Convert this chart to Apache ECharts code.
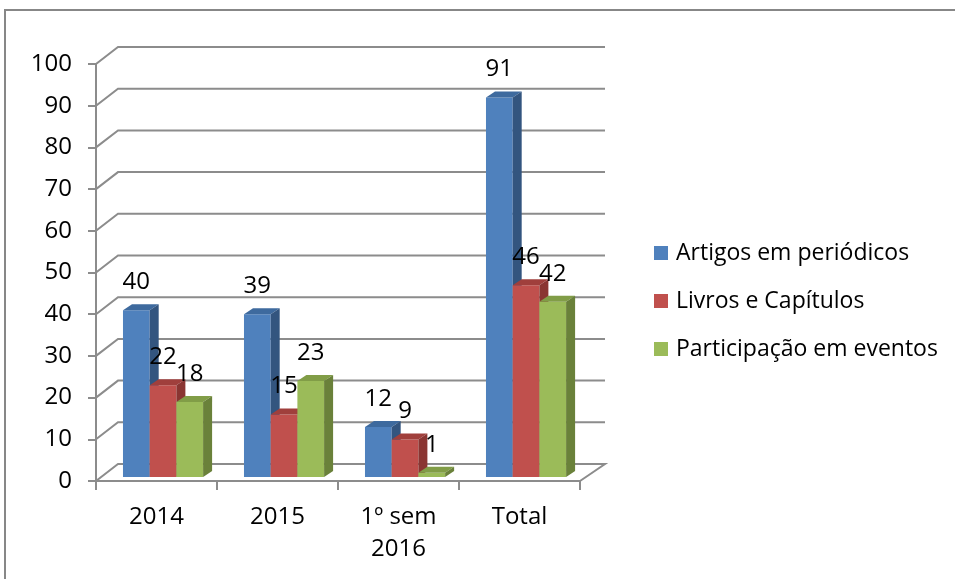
<!DOCTYPE html>
<html>
<head>
<meta charset="utf-8">
<script src="https://cdn.jsdelivr.net/npm/echarts@6/dist/echarts.min.js"></script>
<style>
html,body{margin:0;padding:0;background:#fff;}
#c{width:955px;height:579px;}
</style>
</head>
<body>
<div id="c"></div>
<script>
const categories = ['2014', '2015', '1º sem\n2016', 'Total'];
const seriesNames = ['Artigos em periódicos', 'Livros e Capítulos', 'Participação em eventos'];
const artigos = [40, 39, 12, 91];
const livros = [22, 15, 9, 46];
const participacao = [18, 23, 1, 42];
const yTicks = [0, 10, 20, 30, 40, 50, 60, 70, 80, 90, 100];

const FONT = 'Open Sans';
const GRID_COLOR = '#8c8c8c';
const palettes = [
  { front: '#4F81BD', top: '#3E6A9E', side: '#33557F' },
  { front: '#C0504D', top: '#A03F3C', side: '#8A3532' },
  { front: '#9BBB59', top: '#819D47', side: '#6A813A' }
];
const DX = 9, DY = -6;

function barRender(sIdx) {
  const pal = palettes[sIdx];
  return function (params, api) {
    const cat = api.value(0), v = api.value(1);
    const c = api.coord([cat, v]);
    const c0 = api.coord([cat, 0]);
    const bw = api.size([1, 0])[0];
    const w = bw * 0.2207;
    const x0 = c[0] - bw * 0.277 + sIdx * w;
    const yt = c[1] - 4;
    const yb = c0[1] - 4;
    return {
      type: 'group',
      children: [
        { type: 'rect', shape: { x: x0, y: yt, width: w, height: yb - yt }, style: { fill: pal.front } },
        { type: 'polygon', shape: { points: [[x0, yt], [x0 + w, yt], [x0 + w + DX, yt + DY], [x0 + DX, yt + DY]] }, style: { fill: pal.top } },
        { type: 'polygon', shape: { points: [[x0 + w, yt], [x0 + w + DX, yt + DY], [x0 + w + DX, yb + DY], [x0 + w, yb]] }, style: { fill: pal.side } },
        { type: 'text', z2: 10, style: { text: String(v), x: x0 + w / 2, y: yt - 28, align: 'center', verticalAlign: 'middle', font: '24px "' + FONT + '"', fill: '#000' } }
      ]
    };
  };
}

function gridRender(params, api) {
  const v = api.value(0);
  const cs = params.coordSys;
  const y = api.coord([0, v])[1];
  const pts = [[cs.x, y], [cs.x + 22, y - 17], [cs.x + cs.width + 25, y - 17]];
  if (v === 0) pts.push([cs.x + cs.width, y]);
  return { type: 'polyline', shape: { points: pts }, style: { stroke: GRID_COLOR, lineWidth: 2, fill: null } };
}

const dataSets = [artigos, livros, participacao];
const series = [{
  type: 'custom', name: '__grid', silent: true, z: 1,
  renderItem: gridRender,
  data: yTicks.map(v => [v]),
  encode: { y: 0 }
}];
dataSets.forEach((arr, i) => {
  series.push({
    type: 'custom', name: seriesNames[i], z: 2 + i,
    itemStyle: { color: palettes[i].front },
    renderItem: barRender(i),
    data: arr.map((v, k) => [k, v]),
    encode: { x: 0, y: 1 }
  });
});

const chart = echarts.init(document.getElementById('c'));
chart.setOption({
  animation: false,
  textStyle: { fontFamily: FONT },
  graphic: [{
    type: 'polyline', shape: { points: [[5, 579], [5, 10], [955, 10]] },
    style: { stroke: '#878787', lineWidth: 2, fill: null }
  }],
  grid: { left: 96, right: 375, top: 64, bottom: 98, containLabel: false },
  xAxis: {
    type: 'category', data: categories,
    axisLine: { lineStyle: { color: GRID_COLOR, width: 2 } },
    axisTick: { show: true, length: 9, alignWithLabel: false, lineStyle: { color: GRID_COLOR, width: 2 } },
    axisLabel: { color: '#000', fontSize: 24, lineHeight: 32, margin: 20, fontFamily: FONT },
    splitLine: { show: false }
  },
  yAxis: {
    type: 'value', min: 0, max: 100, interval: 10,
    axisLine: { show: true, lineStyle: { color: GRID_COLOR, width: 2 } },
    axisTick: { show: true, length: 8, lineStyle: { color: GRID_COLOR, width: 2 } },
    axisLabel: { color: '#000', fontSize: 24, margin: 24, fontFamily: FONT },
    splitLine: { show: false }
  },
  legend: {
    data: seriesNames,
    orient: 'vertical', left: 649, top: 236,
    itemWidth: 14, itemHeight: 14, itemGap: 24,
    icon: 'rect',
    textStyle: { color: '#000', fontSize: 23, lineHeight: 24, fontFamily: FONT, padding: [0, 0, 0, 3] }
  },
  series: series
});
</script>
</body>
</html>
